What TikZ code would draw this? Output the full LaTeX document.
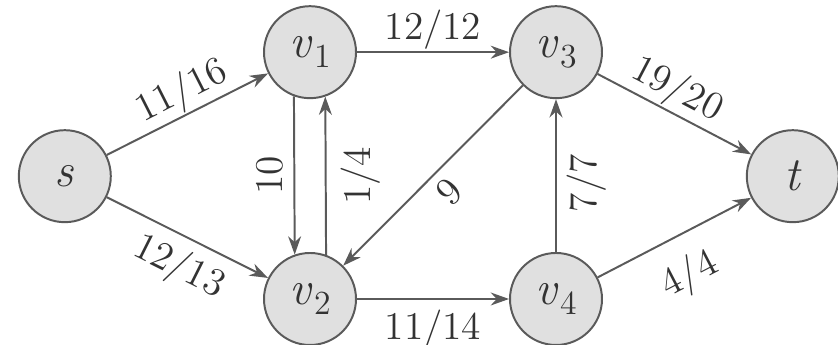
\documentclass[tikz,border=0pt]{standalone}
\usetikzlibrary{arrows.meta}
\definecolor{edgegray}{HTML}{5A5A5A}
\definecolor{nodefill}{HTML}{E0E0E0}
\definecolor{inkgray}{HTML}{333333}
\newcommand{\xS}{0.81}
\newcommand{\xL}{3.875}
\newcommand{\xR}{6.95}
\newcommand{\xT}{9.91}
\newcommand{\yTop}{3.66}
\newcommand{\yMid}{2.11}
\newcommand{\yBot}{0.575}
\newcommand{\vname}[1]{\textit{v}\kern0.03em\raisebox{-0.5ex}{\fontsize{12}{13}\selectfont #1}}
\tikzset{
  vertex/.style={circle,draw=edgegray,fill=nodefill,line width=0.7pt,
    minimum size=1.15cm,inner sep=0pt,text=inkgray,
    font=\fontsize{17}{18}\selectfont},
  arc/.style={draw=edgegray,line width=0.7pt,
    -{Stealth[length=6.5pt,width=4.6pt]}},
  flow/.style={font=\fontsize{14}{16}\selectfont,text=inkgray,inner sep=0pt},
}

\begin{document}
\begin{tikzpicture}[x=1cm,y=1cm]
\useasboundingbox (0,0) rectangle (10.475,4.3125);

%% ---------------- vertices ----------------
\node[vertex] (s)  at (\xS,\yMid) {\textit{s}};
\node[vertex] (v1) at (\xL,\yTop) {\vname{1}};
\node[vertex] (v3) at (\xR,\yTop) {\vname{3}};
\node[vertex] (v2) at (\xL,\yBot) {\vname{2}};
\node[vertex] (v4) at (\xR,\yBot) {\vname{4}};
\node[vertex] (t)  at (\xT,\yMid) {\textit{t}};

%% ---------------- arcs with flow/capacity ----------------
\draw[arc] (s) -- node[flow,above=0.5pt,sloped,pos=0.53] {11/16} (v1);
\draw[arc] (s) -- node[flow,below=3.5pt,sloped,pos=0.53] {12/13} (v2);
\draw[arc] (v1) -- node[flow,above=0.5pt] {12/12} (v3);
\draw[arc] (v2) -- node[flow,below=3.5pt] {11/14} (v4);
\draw[arc] (v3) -- node[flow,above=0.5pt,sloped,pos=0.45] {19/20} (t);
\draw[arc] (v4) -- node[flow,below=7pt,sloped,pos=0.48] {4/4} (t);
\draw[arc] (v1.250.7) -- node[flow,rotate=90,above=3.5pt] {10} (v2.109.3);
\draw[arc] (v2.70.7) -- node[flow,rotate=90,below=5pt] {1/4} (v1.289.3);
\draw[arc] (v3) -- node[flow,below=3pt,sloped,pos=0.5] {9} (v2);
\draw[arc] (v4) -- node[flow,rotate=90,below=3.5pt,pos=0.45] {7/7} (v3);

\end{tikzpicture}
\end{document}
